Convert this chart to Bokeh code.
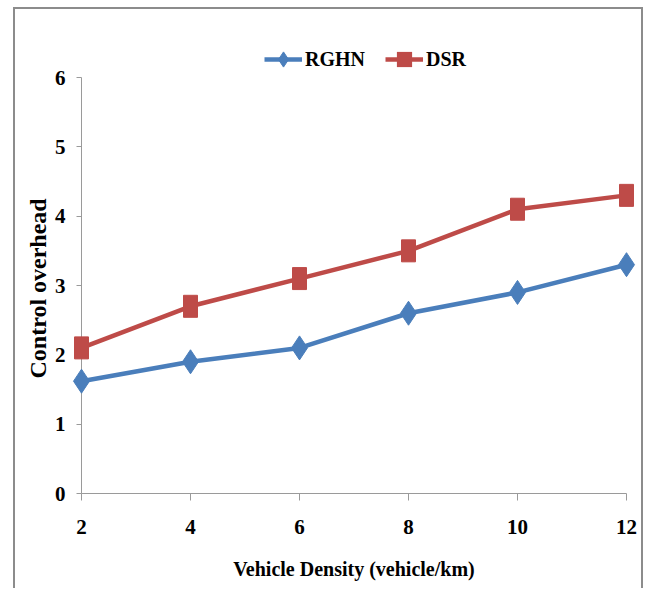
from bokeh.plotting import figure
from bokeh.models import Range1d, Legend, LegendItem, FixedTicker, Title
from bokeh.embed import file_html
from bokeh.resources import INLINE

# ---- data ----
density = [2, 4, 6, 8, 10, 12]
rghn = [1.62, 1.9, 2.1, 2.6, 2.9, 3.3]
dsr = [2.1, 2.7, 3.1, 3.5, 4.1, 4.3]
x_ticks = [2, 4, 6, 8, 10, 12]
y_ticks = [0, 1, 2, 3, 4, 5, 6]
series_names = ["RGHN", "DSR"]
x_title = "Vehicle Density (vehicle/km)"
y_title = "Control overhead"

BLUE = "#4a7ebb"
RED = "#be4b48"
AXIS = "#9a9a9a"
FRAME = "#8c8c8c"
FONT = "Liberation Serif"

# extra head-room above the top tick for the legend (axis line stops at 6)
y_top = y_ticks[-1] * 454 / 416

p = figure(width=630, height=581,
           x_range=Range1d(x_ticks[0], x_ticks[-1]),
           y_range=Range1d(y_ticks[0], y_top),
           output_backend="svg", toolbar_location=None,
           min_border_left=66, min_border_right=19,
           min_border_top=30, min_border_bottom=97)
p.styles = {"margin-left": "13px", "margin-top": "7px",
            "border-left": f"2px solid {FRAME}",
            "border-top": f"2px solid {FRAME}",
            "border-right": f"2px solid {FRAME}"}
p.outline_line_color = None
p.grid.visible = False
p.background_fill_color = "white"
p.border_fill_color = "white"

l1 = p.line(density, rghn, line_color=BLUE, line_width=4.5, level="overlay")
s1 = p.scatter(density, rghn, marker="diamond", size=24,
               fill_color=BLUE, line_color=BLUE, level="overlay")
l2 = p.line(density, dsr, line_color=RED, line_width=4.5, level="overlay")
p.rect(density, dsr, width=14, height=22, width_units="screen",
       height_units="screen", fill_color=RED, line_color=RED, level="overlay")
# legend-only square glyph (size 0 in the plot)
s2 = p.scatter(density, dsr, marker="square", size=0, fill_color=RED,
               line_alpha=0, level="overlay")

legend = Legend(items=[LegendItem(label=series_names[0], renderers=[l1, s1]),
                       LegendItem(label=series_names[1], renderers=[l2, s2])],
                orientation="horizontal", location=(183, 415),
                glyph_width=38, glyph_height=38, label_standoff=3,
                spacing=20, padding=0, margin=0,
                border_line_color=None, background_fill_alpha=0,
                label_text_font=FONT, label_text_font_style="bold",
                label_text_font_size="20px", label_text_color="black")
p.add_layout(legend, "center")

for ax in (p.xaxis[0], p.yaxis[0]):
    ax.axis_line_color = AXIS
    ax.major_tick_line_color = AXIS
    ax.minor_tick_line_color = None
    ax.major_tick_in = 0
    ax.major_label_text_font = FONT
    ax.major_label_text_font_style = "bold"
    ax.major_label_text_font_size = "21px"
    ax.major_label_text_color = "black"
    ax.axis_label_text_font = FONT
    ax.axis_label_text_font_style = "bold"
    ax.axis_label_text_color = "black"

p.yaxis.bounds = (y_ticks[0], y_ticks[-1])
p.xaxis.ticker = FixedTicker(ticks=x_ticks)
p.yaxis.ticker = FixedTicker(ticks=y_ticks)
p.xaxis.axis_label = x_title
p.xaxis.major_tick_out = 7
p.yaxis.major_tick_out = 5
p.xaxis.major_label_standoff = 19
p.yaxis.major_label_standoff = 11
p.xaxis.axis_label_standoff = 21
p.xaxis.axis_label_text_font_size = "20px"

# y-axis title, placed along the axis line (0..6) rather than the frame
p.add_layout(Title(text=y_title, align="left", offset=115, standoff=2,
                   text_font=FONT, text_font_style="bold",
                   text_font_size="24px", text_color="black"), "left")

open("out.html", "w").write(file_html(p, INLINE))
